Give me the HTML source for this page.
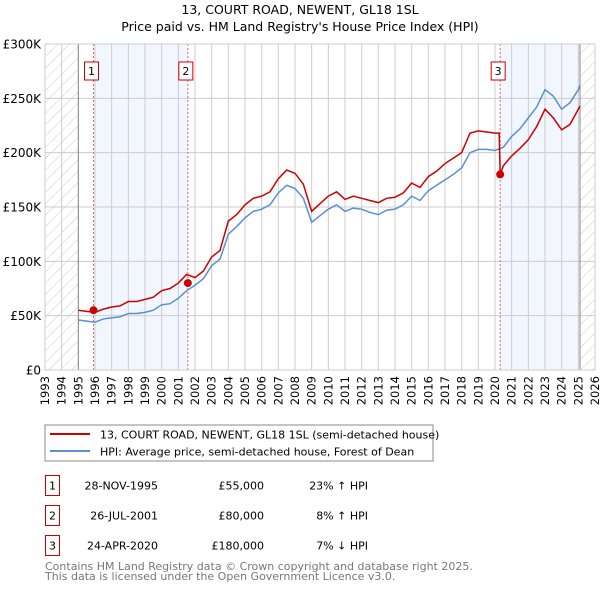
<!DOCTYPE html>
<html><head><meta charset="utf-8"><style>
body{margin:0;background:#fff;}
svg{display:block;font-family:"DejaVu Sans","Liberation Sans",sans-serif;}
</style></head><body>
<svg id="c" width="600" height="590" viewBox="0 0 600 590">
<defs><pattern id="hatch" width="8" height="8" patternUnits="userSpaceOnUse" patternTransform="rotate(45)"><line x1="0" y1="0" x2="0" y2="8" stroke="#ccc" stroke-width="1"/></pattern></defs>
<text x="300" y="14" text-anchor="middle" font-size="12.5">13, COURT ROAD, NEWENT, GL18 1SL</text>
<text x="300" y="31" text-anchor="middle" font-size="12.5">Price paid vs. HM Land Registry's House Price Index (HPI)</text>
<g id="plot"></g>
<g>
<rect x="45" y="425" width="388" height="36" fill="#fff" stroke="#888"/>
<line x1="50" y1="434" x2="90" y2="434" stroke="#cc0000" stroke-width="2"/>
<text x="100" y="438.5" font-size="11">13, COURT ROAD, NEWENT, GL18 1SL (semi-detached house)</text>
<line x1="50" y1="451" x2="90" y2="451" stroke="#5b8fd0" stroke-width="2"/>
<text x="100" y="455.5" font-size="11">HPI: Average price, semi-detached house, Forest of Dean</text>
</g>
<g font-size="11">
<g><rect x="45.5" y="475.5" width="14" height="20" fill="#fff" stroke="#cc0000"/><text x="52.5" y="489.5" text-anchor="middle">1</text><text x="158" y="489.5" text-anchor="end">28-NOV-1995</text><text x="264" y="489.5" text-anchor="end">£55,000</text><text x="368" y="489.5" text-anchor="end">23% ↑ HPI</text></g>
<g><rect x="45.5" y="505.5" width="14" height="20" fill="#fff" stroke="#cc0000"/><text x="52.5" y="519.5" text-anchor="middle">2</text><text x="158" y="519.5" text-anchor="end">26-JUL-2001</text><text x="264" y="519.5" text-anchor="end">£80,000</text><text x="368" y="519.5" text-anchor="end">8% ↑ HPI</text></g>
<g><rect x="45.5" y="535.5" width="14" height="20" fill="#fff" stroke="#cc0000"/><text x="52.5" y="549.5" text-anchor="middle">3</text><text x="158" y="549.5" text-anchor="end">24-APR-2020</text><text x="264" y="549.5" text-anchor="end">£180,000</text><text x="368" y="549.5" text-anchor="end">7% ↓ HPI</text></g>
</g>
<text x="45" y="570" font-size="11" fill="#777">Contains HM Land Registry data © Crown copyright and database right 2025.</text>
<text x="45" y="580" font-size="11" fill="#777">This data is licensed under the Open Government Licence v3.0.</text>
</svg>
<script>
const yTicks=[0,50000,100000,150000,200000,250000,300000];
const yTickLabels=["£0","£50K","£100K","£150K","£200K","£250K","£300K"];
const years=[1993,1994,1995,1996,1997,1998,1999,2000,2001,2002,2003,2004,2005,2006,2007,2008,2009,2010,2011,2012,2013,2014,2015,2016,2017,2018,2019,2020,2021,2022,2023,2024,2025,2026];
const saleDates=[1995.91,2001.57,2020.31];
const salePrices=[55000,80000,180000];
const saleLabels=["1","2","3"];
const hpiDates=[1995,1995.5,1996,1996.5,1997,1997.5,1998,1998.5,1999,1999.5,2000,2000.5,2001,2001.5,2002,2002.5,2003,2003.5,2004,2004.5,2005,2005.5,2006,2006.5,2007,2007.5,2008,2008.5,2009,2009.5,2010,2010.5,2011,2011.5,2012,2012.5,2013,2013.5,2014,2014.5,2015,2015.5,2016,2016.5,2017,2017.5,2018,2018.5,2019,2019.5,2020,2020.5,2021,2021.5,2022,2022.5,2023,2023.5,2024,2024.5,2025,2025.1];
const hpiValues=[46,45,44,47,48,49,52,52,53,55,60,61,66,73,78,84,96,102,125,132,140,146,148,152,163,170,167,158,136,142,148,152,146,149,148,145,143,147,148,152,160,156,165,170,175,180,186,200,203,203,202,205,215,222,232,242,258,252,240,246,258,262];
const priceDates=[1995,1995.5,1996,1996.5,1997,1997.5,1998,1998.5,1999,1999.5,2000,2000.5,2001,2001.5,2002,2002.5,2003,2003.5,2004,2004.5,2005,2005.5,2006,2006.5,2007,2007.5,2008,2008.5,2009,2009.5,2010,2010.5,2011,2011.5,2012,2012.5,2013,2013.5,2014,2014.5,2015,2015.5,2016,2016.5,2017,2017.5,2018,2018.5,2019,2019.5,2020,2020.25,2020.31,2020.5,2021,2021.5,2022,2022.5,2023,2023.5,2024,2024.5,2025,2025.1];
const priceValues=[55,54,53,56,58,59,63,63,65,67,73,75,80,88,85,91,104,110,137,143,152,158,160,164,176,184,181,171,146,153,160,164,157,160,158,156,154,158,159,163,172,168,178,183,190,195,200,218,220,219,218,218,180,188,197,204,212,224,240,232,221,226,240,243];

const NS="http://www.w3.org/2000/svg";
const L=45,R=595,T=44,B=370;
const x=v=>L+(v-1993)/(2026-1993)*(R-L);
const y=v=>B-v/300000*(B-T);
const g=document.getElementById('plot');
function mk(t,a,p){const e=document.createElementNS(NS,t);for(const k in a)e.setAttribute(k,a[k]);(p||g).appendChild(e);return e;}
// shaded ownership periods
let s1=mk('rect',{x:x(saleDates[0]),y:T,width:x(saleDates[1])-x(saleDates[0]),height:B-T,fill:'#eef3fd',opacity:0.75});


let s2=mk('rect',{x:x(saleDates[2]),y:T,width:x(2025.1)-x(saleDates[2]),height:B-T,fill:'#eef3fd',opacity:0.75});


// grid
years.forEach(yr=>{const l=mk('line',{x1:x(yr),x2:x(yr),y1:T,y2:B,stroke:'#ccc','stroke-width':1});


const t=mk('text',{x:0,y:0,'font-size':11.5,'text-anchor':'end',transform:`translate(${x(yr)+4},${B+6}) rotate(-90)`});t.textContent=yr;

});
yTicks.forEach((v,i)=>{const l=mk('line',{x1:L,x2:R,y1:y(v),y2:y(v),stroke:'#ccc','stroke-width':1});


const t=mk('text',{x:L-4,y:y(v)+4.5,'font-size':12,'text-anchor':'end'});t.textContent=yTickLabels[i];

});
// hatch areas
let h1=mk('rect',{x:L,y:T,width:x(1995)-L,height:B-T,fill:'url(#hatch)'});


let h2=mk('rect',{x:x(2025.1),y:T,width:R-x(2025.1),height:B-T,fill:'url(#hatch)'});


mk('line',{x1:x(1995),x2:x(1995),y1:T,y2:B,stroke:'#888'});
mk('line',{x1:x(2025.1),x2:x(2025.1),y1:T,y2:B,stroke:'#888'});
// sale markers vertical
saleDates.forEach((d,i)=>{const l=mk('line',{x1:x(d),x2:x(d),y1:T,y2:B,stroke:'#f06060','stroke-dasharray':'2,2'});


const r=mk('rect',{x:x(d)-9,y:62,width:14,height:18,fill:'#fff',stroke:'#cc0000'});


const t=mk('text',{x:x(d)-2,y:75,'font-size':11,'text-anchor':'middle'});t.textContent=saleLabels[i];

});
mk('rect',{x:L,y:T,width:R-L,height:B-T,fill:'none',stroke:'#ccc'});
// series
const hp=mk('polyline',{points:hpiDates.map((d,i)=>x(d)+','+y(hpiValues[i]*1000)).join(' '),fill:'none',stroke:'#5b8fd0','stroke-width':1.5});


const pp=mk('polyline',{points:priceDates.map((d,i)=>x(d)+','+y(priceValues[i]*1000)).join(' '),fill:'none',stroke:'#cc0000','stroke-width':1.5});


saleDates.forEach((d,i)=>{const c=mk('circle',{cx:x(d),cy:y(salePrices[i]),r:4,fill:'#cc0000'});

});
</script>
</body></html>
